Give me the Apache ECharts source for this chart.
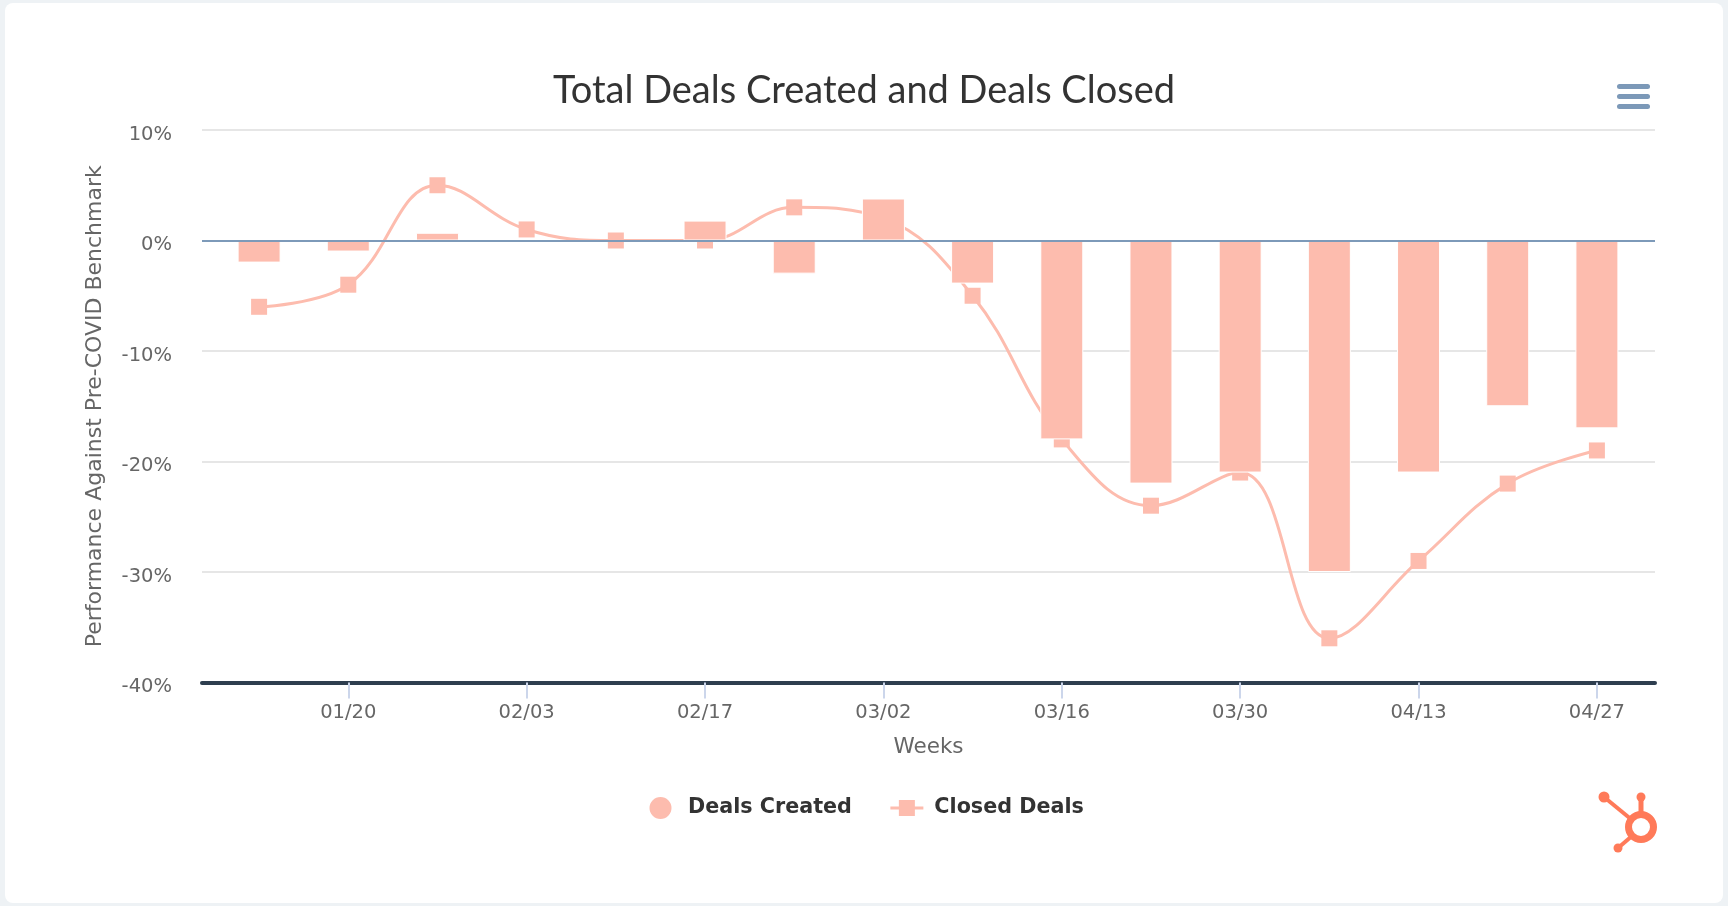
<!DOCTYPE html>
<html>
<head>
<meta charset="utf-8">
<script src="https://cdn.jsdelivr.net/npm/echarts@6/dist/echarts.min.js"></script>
<style>
  html, body { margin: 0; padding: 0; background: #eef2f5; width: 1728px; height: 906px; overflow: hidden; }
  #card { position: absolute; left: 5px; top: 3px; width: 1718px; height: 900px; background: #ffffff; border-radius: 8px; }
  #chart { position: absolute; left: 0; top: 0; width: 1728px; height: 906px; }
</style>
</head>
<body>
<div id="card"></div>
<div id="chart"></div>
<script>
// ---- data ----
const weeks = ['01/13','01/20','01/27','02/03','02/10','02/17','02/24','03/02','03/09','03/16','03/23','03/30','04/06','04/13','04/20','04/27'];
const dealsCreated = [-2, -1, 0.7, 0, 0, 1.8, -3, 3.8, -3.9, -18, -22, -21, -30, -21, -15, -17];
const closedDeals = [-6, -4, 5, 1, 0, 0, 3, 2, -5, -18, -24, -21, -36, -29, -22, -19];
const yTicks = { min: -40, max: 10, step: 10 };
const titleText = 'Total Deals Created and Deals Closed';
const yAxisTitle = 'Performance Against Pre-COVID Benchmark';
const xAxisTitle = 'Weeks';
const seriesNames = ['Deals Created', 'Closed Deals'];

const TFONT = 'Lato';
const FONT = 'DejaVu Sans';
const PINK = '#fdbcae';
const ORANGE = '#ff7a59';
const chart = echarts.init(document.getElementById('chart'), null, { renderer: 'canvas' });

const gridTop = 130, gridBottomY = 682.5;
const oddOnly = (i) => i % 2 === 1;

chart.setOption({
  animation: false,
  title: {
    text: titleText,
    left: 'center',
    top: 62.5,
    textStyle: { fontFamily: TFONT, fontSize: 38, fontWeight: 'normal', color: '#333333', lineHeight: 46 }
  },
  legend: {
    data: [
      { name: seriesNames[0], icon: 'circle' },
      { name: seriesNames[1], icon: 'path://M0,0 M0,10.5 L33,10.5 L33,13.5 L0,13.5 Z M8.5,4 L24.5,4 L24.5,20 L8.5,20 Z M33,24' }
    ],
    left: 642.5,
    top: 790,
    itemWidth: 33,
    itemHeight: 24,
    itemGap: 38.5,
    textStyle: { fontFamily: FONT, fontSize: 20.7, fontWeight: 'bold', color: '#333333', padding: [0, 0, 0, 6] }
  },
  grid: [
    { left: 202, width: 1453, top: gridTop, height: gridBottomY - gridTop },
    { left: 214.5, width: 1427, top: gridTop, height: gridBottomY - gridTop }
  ],
  xAxis: [
    {
      gridIndex: 0, type: 'value', min: 0, max: 1, position: 'bottom',
      axisLine: { show: true, onZero: false, lineStyle: { color: '#2e3e4f', width: 4 } },
      axisTick: { show: false }, axisLabel: { show: false }, splitLine: { show: false },
      name: xAxisTitle, nameLocation: 'middle', nameGap: 54,
      nameTextStyle: { fontFamily: FONT, fontSize: 21.5, color: '#666666' }
    },
    {
      gridIndex: 1, type: 'category', data: weeks, boundaryGap: true, position: 'bottom',
      axisLine: { show: false, onZero: false },
      axisTick: { show: true, alignWithLabel: true, interval: (i) => oddOnly(i), length: 16,
        lineStyle: { color: '#ccd6eb', width: 2 } },
      axisLabel: { interval: (i) => oddOnly(i), margin: 20, fontFamily: FONT, fontSize: 19.5, color: '#666666' },
      splitLine: { show: false }
    }
  ],
  yAxis: [
    {
      gridIndex: 0, type: 'value', min: yTicks.min, max: yTicks.max, interval: yTicks.step,
      axisLine: { show: false }, axisTick: { show: false },
      axisLabel: { formatter: '{value}%', margin: 30, fontFamily: FONT, fontSize: 19.5, color: '#666666',
        verticalAlign: 'top', lineHeight: 9 },
      splitLine: { show: true, lineStyle: { color: '#e6e6e6', width: 2 } },
      name: yAxisTitle, nameLocation: 'middle', nameRotate: 90, nameGap: 96,
      nameTextStyle: { fontFamily: FONT, fontSize: 22, color: '#666666' }
    },
    {
      gridIndex: 1, type: 'value', min: yTicks.min, max: yTicks.max, interval: yTicks.step,
      show: false, splitLine: { show: false }
    }
  ],
  series: [
    {
      type: 'line', xAxisIndex: 0, yAxisIndex: 0, data: [], z: 1, silent: true,
      markLine: {
        silent: true, symbol: ['none', 'none'], label: { show: false },
        lineStyle: { color: '#7d9ab9', width: 2, type: 'solid' },
        data: [{ yAxis: 0 }]
      }
    },
    {
      name: seriesNames[1], type: 'line', xAxisIndex: 1, yAxisIndex: 1, data: closedDeals,
      smooth: 0.4, symbol: 'rect', symbolSize: 16, z: 2,
      lineStyle: { color: PINK, width: 3 }, itemStyle: { color: PINK }
    },
    {
      name: seriesNames[0], type: 'bar', xAxisIndex: 1, yAxisIndex: 1, data: dealsCreated,
      barWidth: 43, z: 3,
      itemStyle: { color: PINK, borderColor: '#ffffff', borderWidth: 1 }
    }
  ],
  graphic: [
    { type: 'rect', shape: { x: 1617, y: 84, width: 33, height: 5, r: 2.5 }, style: { fill: '#7c99b8' } },
    { type: 'rect', shape: { x: 1617, y: 94, width: 33, height: 5, r: 2.5 }, style: { fill: '#7c99b8' } },
    { type: 'rect', shape: { x: 1617, y: 104, width: 33, height: 5, r: 2.5 }, style: { fill: '#7c99b8' } },
    { type: 'line', shape: { x1: 1604, y1: 797, x2: 1632, y2: 820 }, style: { stroke: ORANGE, lineWidth: 4 } },
    { type: 'circle', shape: { cx: 1604, cy: 797, r: 5.5 }, style: { fill: ORANGE } },
    { type: 'line', shape: { x1: 1641, y1: 797, x2: 1641, y2: 812 }, style: { stroke: ORANGE, lineWidth: 5 } },
    { type: 'circle', shape: { cx: 1641, cy: 797, r: 4.5 }, style: { fill: ORANGE } },
    { type: 'line', shape: { x1: 1632, y1: 836, x2: 1618, y2: 848 }, style: { stroke: ORANGE, lineWidth: 4 } },
    { type: 'circle', shape: { cx: 1618, cy: 848, r: 4.5 }, style: { fill: ORANGE } },
    { type: 'circle', shape: { cx: 1641, cy: 827, r: 12.5 }, style: { fill: 'none', stroke: ORANGE, lineWidth: 7 } }
  ]
});
</script>
</body>
</html>
